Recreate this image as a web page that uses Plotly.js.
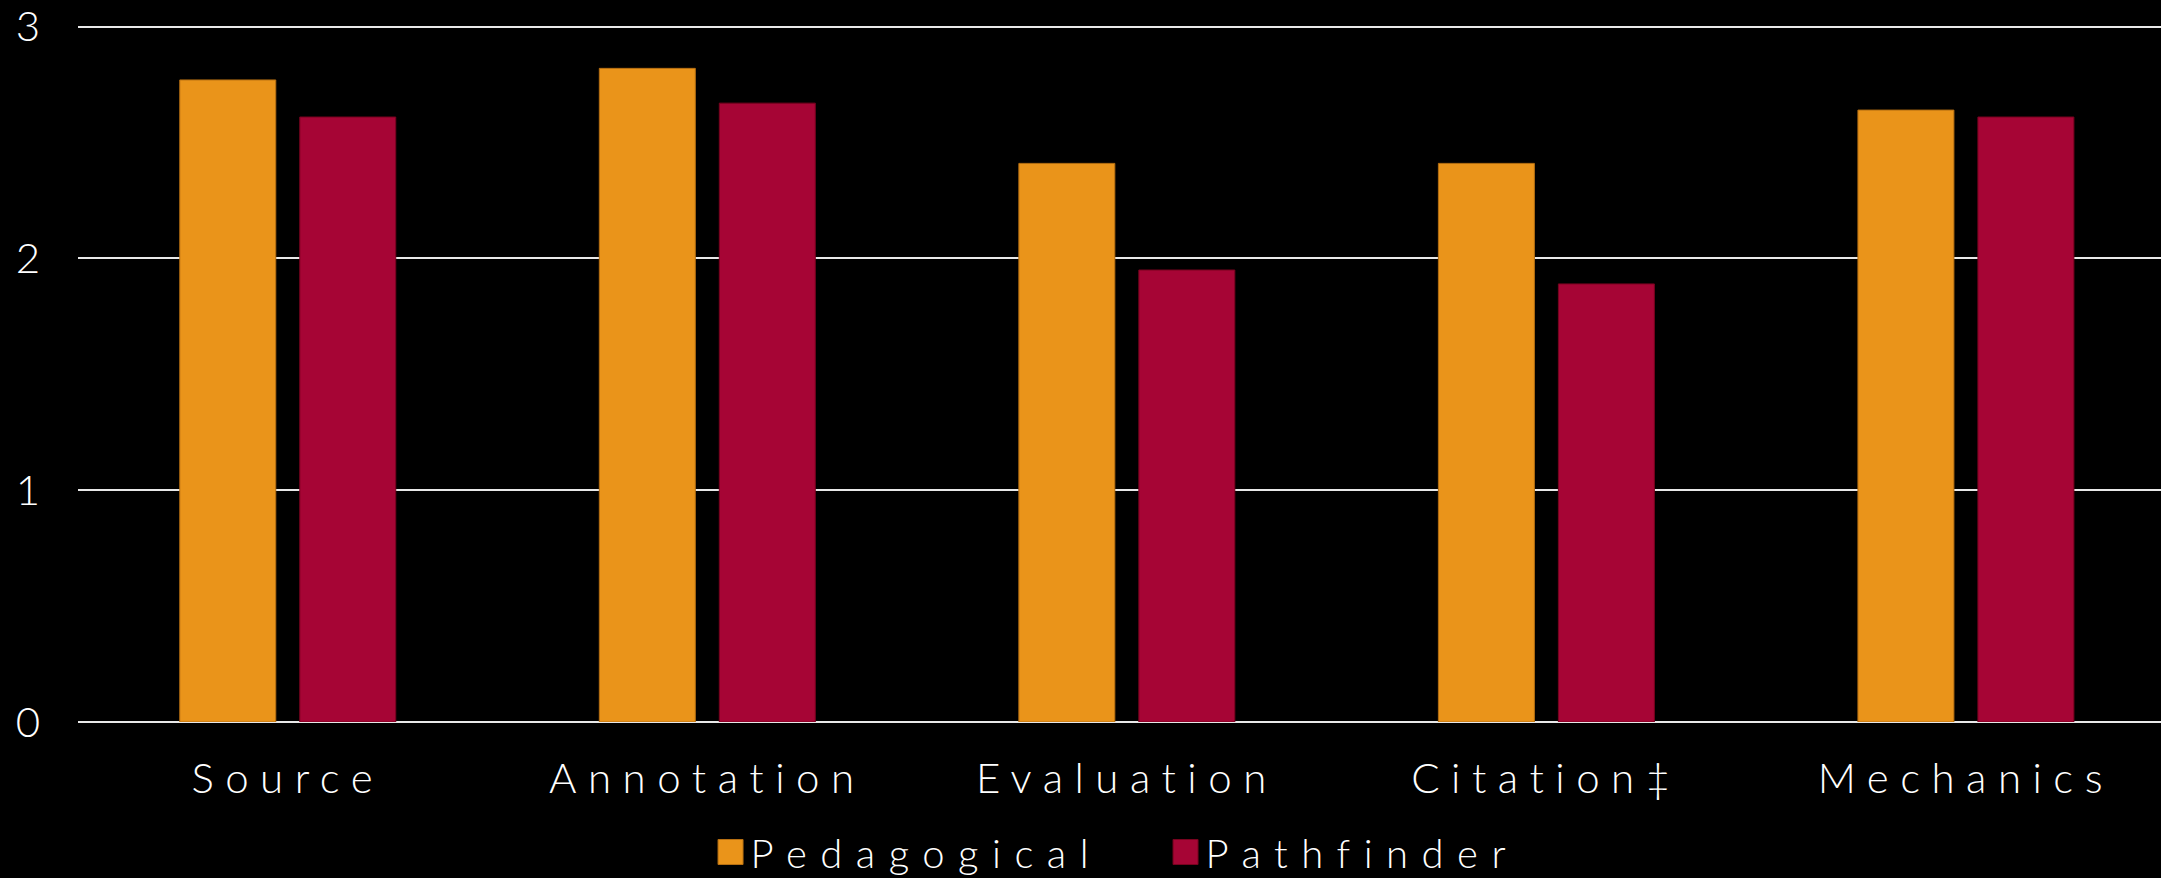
<!DOCTYPE html>
<html>
<head>
<meta charset="utf-8">
<script src="https://cdn.plot.ly/plotly-3.0.1.min.js"></script>
<style>
  html, body { margin: 0; padding: 0; background: #000; }
  #chart { width: 2161px; height: 878px; }
  .xtick text { letter-spacing: 11.5px; }
  text.legendtext { letter-spacing: 13.5px; }
</style>
</head>
<body>
<div id="chart"></div>
<script>
// Rubric scores by category for the two instruction groups
const categories = ["Source", "Annotation", "Evaluation", "Citation\u2021", "Mechanics"];
const pedagogical = [2.77, 2.82, 2.41, 2.41, 2.64];
const pathfinder  = [2.61, 2.67, 1.95, 1.89, 2.61];
const yTicks = [0, 1, 2, 3];

const FONT = "Lato, 'Century Gothic', 'DejaVu Sans', sans-serif";

const traces = [
  {
    type: "bar", name: "Pedagogical", x: categories, y: pedagogical,
    marker: { color: "#EA941A", line: { color: "#B66F12", width: 1 } },
    hoverinfo: "skip"
  },
  {
    type: "bar", name: "Pathfinder", x: categories, y: pathfinder,
    marker: { color: "#A60535", line: { color: "#78031F", width: 1 } },
    hoverinfo: "skip"
  }
];

const layout = {
  width: 2161, height: 878,
  paper_bgcolor: "#000", plot_bgcolor: "#000",
  font: { family: FONT, color: "#ffffff", size: 40, weight: 300 },
  margin: { l: 78, r: 0, t: 22, b: 156, pad: 0, autoexpand: false },
  barmode: "group",
  bargap: 0.428,
  bargroupgap: 0.2,
  showlegend: true,
  legend: {
    orientation: "h",
    xref: "container", yref: "container",
    x: 0.3288, xanchor: "left",
    y: 0.0296, yanchor: "middle",
    entrywidth: 410, entrywidthmode: "pixels",
    font: { family: FONT, size: 40, color: "#ffffff", weight: 300 },
    bgcolor: "rgba(0,0,0,0)",
    borderwidth: 0,
    itemclick: false, itemdoubleclick: false,
    tracegroupgap: 0
  },
  xaxis: {
    type: "category",
    range: [-0.5, 4.465],
    automargin: false,
    showgrid: false, zeroline: false, showline: false,
    ticks: "",
    ticklabelstandoff: 28,
    tickfont: { family: FONT, size: 42, color: "#ffffff", weight: 300 },
    fixedrange: true
  },
  yaxis: {
    range: [0, 3.02],
    automargin: false,
    tickvals: yTicks,
    ticktext: yTicks.map(String),
    showgrid: true, gridcolor: "#e8e8e8", gridwidth: 2,
    zeroline: true, zerolinecolor: "#e8e8e8", zerolinewidth: 2,
    showline: false, ticks: "",
    ticklabelstandoff: 37,
    tickfont: { family: FONT, size: 42, color: "#ffffff", weight: 300 },
    fixedrange: true
  }
};

Plotly.newPlot("chart", traces, layout, { displayModeBar: false, staticPlot: true }).then(() => {
  // enlarge the legend swatches to 25px squares
  document.querySelectorAll("#chart .legend .legendpoints path").forEach(p => {
    p.setAttribute("d", "M12.5,12.5H-12.5V-12.5H12.5Z");
  });
});
</script>
</body>
</html>
